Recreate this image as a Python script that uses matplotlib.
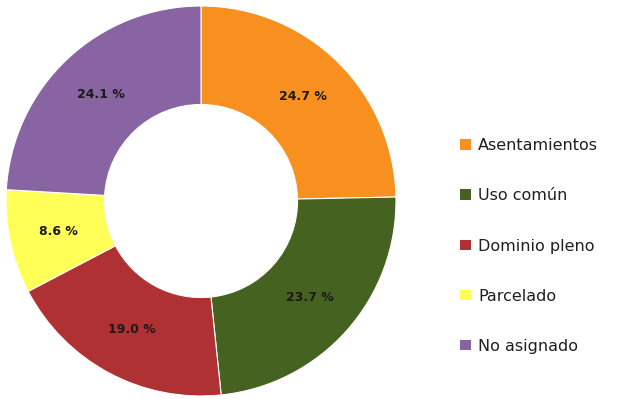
import numpy as np
import matplotlib.pyplot as plt
from matplotlib.patches import Patch

# Datos del grafico (porcentajes por tipo de tenencia)
categorias = ["Asentamientos", "Uso común", "Dominio pleno", "Parcelado", "No asignado"]
porcentajes = [24.7, 23.7, 19.0, 8.6, 24.1]
colores = ["#F7901E", "#466220", "#AF3133", "#FFFF57", "#8864A2"]

fig = plt.figure(figsize=(6.17, 3.99), dpi=100)
ax = fig.add_axes([6 / 617, 3 / 399, 390 / 617, 390 / 399])

ancho = 0.505
wedges, _ = ax.pie(porcentajes, colors=colores, startangle=90, counterclock=False,
                   radius=1, wedgeprops=dict(width=ancho, edgecolor="white", linewidth=0.8))

# Etiquetas en el centro del anillo
r_med = 1 - ancho / 2
for w, p in zip(wedges, porcentajes):
    ang = np.deg2rad((w.theta1 + w.theta2) / 2)
    ax.text(r_med * np.cos(ang), r_med * np.sin(ang), f"{p:.1f} %",
            ha="center", va="center", fontsize=9, fontweight="bold", color="#1a1a1a")

ax.set_xlim(-1, 1)
ax.set_ylim(-1, 1)
ax.set_aspect("equal")
ax.axis("off")

handles = [Patch(facecolor=c, edgecolor="none") for c in colores]
fig.legend(handles, categorias, loc="center left", bbox_to_anchor=(446 / 617, 1 - 246 / 399),
           frameon=False, fontsize=11.5, labelspacing=2.2, handlelength=0.65, handleheight=0.65,
           handletextpad=0.45, labelcolor="#1f1f1f")

fig.savefig("out.png", dpi=100)
